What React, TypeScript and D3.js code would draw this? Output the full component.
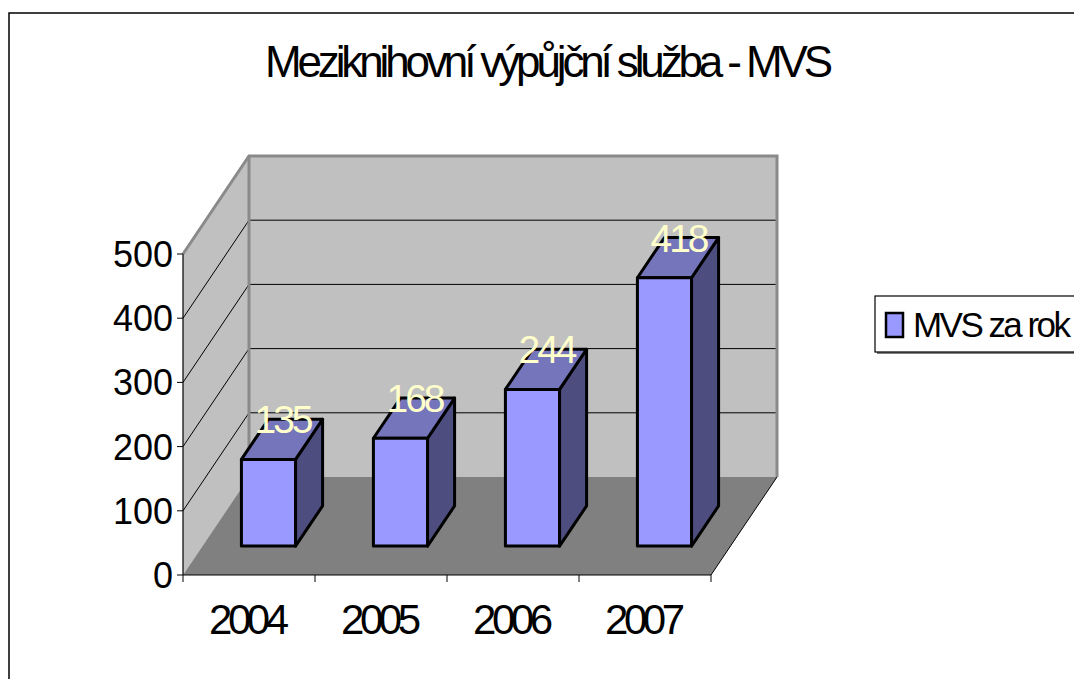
import * as d3 from "d3";
import React from "react";

const TITLE = "Meziknihovní výpůjční služba - MVS";
const SERIES_NAME = "MVS za rok";
const YEARS = ["2004", "2005", "2006", "2007"];
const VALUES = [135, 168, 244, 418];
const Y_TICKS = [0, 100, 200, 300, 400, 500];

const FONT = "'Liberation Sans', Arial, Helvetica, sans-serif";

// 3d box: front baseline + depth offset
const BASE_Y = 575;
const DX = 66;
const DY = -98;
const T_FRONT = 0.295;
const T_BACK = 0.705;

const COL_FRONT = "#9999FF";
const COL_TOP = "#7575BB";
const COL_SIDE = "#4D4D80";

export default function App() {
  const x = d3.scaleBand<string>().domain(YEARS).range([183, 711]).paddingInner(0).paddingOuter(0);
  const h = d3.scaleLinear().domain([0, 500]).range([0, 321]);

  const pt = (xv: number, depth: number, v: number): [number, number] => [
    xv + DX * depth,
    BASE_Y + DY * depth - h(v),
  ];
  const poly = (ps: [number, number][]) => ps.map((p) => p.join(",")).join(" ");

  const x0 = x.range()[0];
  const x1 = x.range()[1];
  const top = 500;

  // walls & floor
  const backWall = poly([pt(x0, 1, 0), pt(x1, 1, 0), pt(x1, 1, top), pt(x0, 1, top)]);
  const sideWall = poly([pt(x0, 0, 0), pt(x0, 1, 0), pt(x0, 1, top), pt(x0, 0, top)]);
  const floor = poly([pt(x0, 0, 0), pt(x0, 1, 0), pt(x1, 1, 0), pt(x1, 0, 0)]);

  const bw = x.bandwidth();
  const half = bw * 0.205;

  return (
    <svg
      width={1074}
      height={679}
      style={{ position: "absolute", left: 0, top: 0, background: "#fff" }}
      fontFamily={FONT}
    >
      <rect x={9} y={13} width={1100} height={700} fill="#fff" stroke="#000" strokeWidth={1.5} />

      <text x={549} y={77} fontSize={44} textAnchor="middle" textLength={568} lengthAdjust="spacing" fill="#000">
        {TITLE}
      </text>

      {/* walls */}
      <polygon points={sideWall} fill="#C0C0C0" />
      <polygon points={backWall} fill="#C0C0C0" />
      <polygon points={floor} fill="#808080" />

      {/* gridlines */}
      {Y_TICKS.filter((t) => t > 0 && t < top).map((t) => {
        const a = pt(x0, 0, t);
        const b = pt(x0, 1, t);
        const c = pt(x1, 1, t);
        return (
          <g key={t}>
            <line x1={a[0]} y1={a[1]} x2={b[0]} y2={b[1]} stroke="#000" strokeWidth={1} />
            <line x1={b[0]} y1={b[1]} x2={c[0]} y2={c[1]} stroke="#000" strokeWidth={1} />
          </g>
        );
      })}

      {/* wall edges */}
      <polyline
        points={poly([pt(x0, 0, top), pt(x0, 1, top), pt(x1, 1, top), pt(x1, 1, 0)])}
        fill="none"
        stroke="#8A8A8A"
        strokeWidth={3}
      />
      <line
        x1={pt(x0, 1, 0)[0]}
        y1={pt(x0, 1, 0)[1]}
        x2={pt(x0, 1, top)[0]}
        y2={pt(x0, 1, top)[1]}
        stroke="#8A8A8A"
        strokeWidth={3}
      />
      <line
        x1={pt(x1, 0, 0)[0]}
        y1={pt(x1, 0, 0)[1]}
        x2={pt(x1, 1, 0)[0]}
        y2={pt(x1, 1, 0)[1]}
        stroke="#000"
        strokeWidth={1}
      />

      {/* axes */}
      <line x1={x0} y1={BASE_Y - h(top)} x2={x0} y2={BASE_Y} stroke="#000" strokeWidth={1.2} />
      <line x1={x0} y1={BASE_Y} x2={x1} y2={BASE_Y} stroke="#000" strokeWidth={1.2} />
      {Y_TICKS.map((t) => (
        <g key={t}>
          <line x1={x0 - 6} x2={x0} y1={BASE_Y - h(t)} y2={BASE_Y - h(t)} stroke="#000" strokeWidth={1} />
          <text x={173} y={BASE_Y - h(t)} dy="0.36em" fontSize={36} textAnchor="end" fill="#000">
            {t}
          </text>
        </g>
      ))}
      {[...YEARS.map((y) => x(y)!), x1].map((xv, i) => (
        <line key={i} x1={xv} x2={xv} y1={BASE_Y} y2={BASE_Y + 7} stroke="#000" strokeWidth={1} />
      ))}
      {YEARS.map((y) => (
        <text
          key={y}
          x={x(y)! + bw / 2}
          y={634}
          fontSize={42}
          textAnchor="middle"
          textLength={80}
          lengthAdjust="spacing"
          fill="#000"
        >
          {y}
        </text>
      ))}

      {/* bars */}
      {YEARS.map((y, i) => {
        const v = VALUES[i];
        const c = x(y)! + bw / 2;
        const l = c - half;
        const r = c + half;
        const fl0 = pt(l, T_FRONT, 0);
        const fr0 = pt(r, T_FRONT, 0);
        const fr1 = pt(r, T_FRONT, v);
        const fl1 = pt(l, T_FRONT, v);
        const bl1 = pt(l, T_BACK, v);
        const br1 = pt(r, T_BACK, v);
        const br0 = pt(r, T_BACK, 0);
        const lx = (fl1[0] + br1[0]) / 2 + 2;
        const ly = (fl1[1] + br1[1]) / 2 - 6;
        return (
          <g key={y} stroke="#000" strokeWidth={3} strokeLinejoin="round">
            <polygon points={poly([fr0, fr1, br1, br0])} fill={COL_SIDE} />
            <polygon points={poly([fl1, fr1, br1, bl1])} fill={COL_TOP} />
            <polygon points={poly([fl0, fr0, fr1, fl1])} fill={COL_FRONT} />
            <text
              x={lx}
              y={ly}
              fontSize={39}
              textAnchor="middle"
              textLength={59}
              lengthAdjust="spacing"
              fill="#FFFFCC"
              stroke="none"
            >
              {v}
            </text>
          </g>
        );
      })}

      {/* legend */}
      <rect x={877} y={298} width={220} height={56} fill="#808080" />
      <rect x={875} y={296} width={220} height={56} fill="#fff" stroke="#000" strokeWidth={1.2} />
      <rect x={886} y={313} width={17} height={24} fill={COL_FRONT} stroke="#000" strokeWidth={2.5} />
      <text x={913} y={337} fontSize={35} textLength={158} lengthAdjust="spacing" fill="#000">
        {SERIES_NAME}
      </text>
    </svg>
  );
}
